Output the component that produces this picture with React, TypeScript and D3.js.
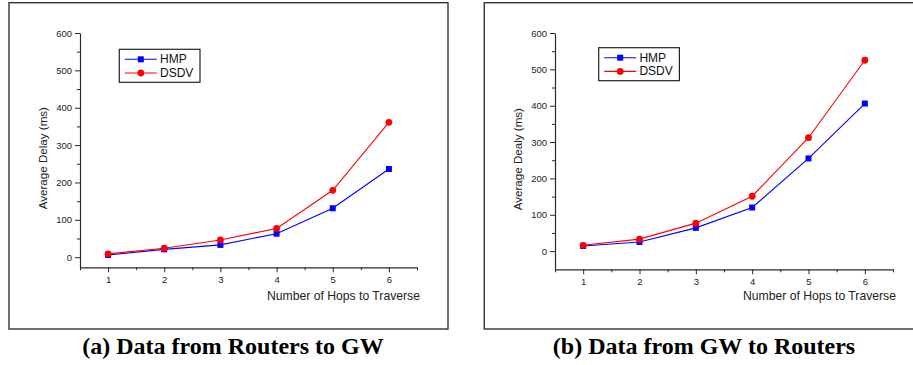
import React, { useRef, useEffect } from 'react';
import * as d3 from 'd3';

const hops = [1, 2, 3, 4, 5, 6];

// (a) Data from Routers to GW
const hmpToGw = [6, 21, 33, 63, 131, 236];
const dsdvToGw = [9, 24, 46, 77, 179, 361];

// (b) Data from GW to Routers
const hmpFromGw = [14, 25, 64, 120, 255, 406];
const dsdvFromGw = [16, 33, 77, 151, 312, 525];

const yTicks = [0, 100, 200, 300, 400, 500, 600];
const yMinorTicks = [50, 150, 250, 350, 450, 550];
const xMinorTicks = [0.5, 1.5, 2.5, 3.5, 4.5, 5.5, 6.5];

const seriesNames = ['HMP', 'DSDV'];
const seriesColors = ['#0000ff', '#ff0000'];

const FONT = 'Arial, "Liberation Sans", sans-serif';
const AXIS = '#2a2a2a';

interface PanelSpec {
  frame: [number, number, number, number];
  xRange: [number, number];
  yRange: [number, number];
  yMin: number;
  yLabel: string;
  yLabelX: number;
  caption: string;
  captionX: number;
  legend: [number, number];
  hmp: number[];
  dsdv: number[];
}

const panels: PanelSpec[] = [
  {
    frame: [9, 2.7, 448, 329],
    xRange: [80, 417],
    yRange: [267.3, 33],
    yMin: -27,
    yLabel: 'Average Delay (ms)',
    yLabelX: 42,
    caption: '(a) Data from Routers to GW',
    captionX: 233,
    legend: [119.3, 49.3],
    hmp: hmpToGw,
    dsdv: dsdvToGw,
  },
  {
    frame: [484.3, 2.7, 925, 329],
    xRange: [555, 893],
    yRange: [269.3, 33],
    yMin: -50,
    yLabel: 'Average Dealy (ms)',
    yLabelX: 517.7,
    caption: '(b) Data from GW to Routers',
    captionX: 704,
    legend: [598.7, 47.7],
    hmp: hmpFromGw,
    dsdv: dsdvFromGw,
  },
];

const App: React.FC = () => {
  const svgRef = useRef<SVGSVGElement>(null);
  const width = 913;
  const height = 365;

  useEffect(() => {
    if (!svgRef.current) return;
    const svg = d3.select(svgRef.current);
    svg.selectAll('*').remove();

    svg.append('rect')
      .attr('width', width)
      .attr('height', height)
      .attr('fill', '#fff');

    panels.forEach((p) => {
      const [fx0, fy0, fx1, fy1] = p.frame;
      svg.append('rect')
        .attr('x', fx0)
        .attr('y', fy0)
        .attr('width', fx1 - fx0)
        .attr('height', fy1 - fy0)
        .attr('fill', 'none')
        .attr('stroke', '#333')
        .attr('stroke-width', 1.4);

      const x = d3.scaleLinear().domain([0.5, 6.5]).range(p.xRange);
      const y = d3.scaleLinear().domain([p.yMin, 600]).range(p.yRange);

      const styleAxis = (sel: d3.Selection<SVGGElement, unknown, null, undefined>) => {
        sel.select('.domain').attr('stroke', AXIS).attr('stroke-width', 1.2);
        sel.selectAll('.tick line').attr('stroke', AXIS).attr('stroke-width', 1);
        sel.selectAll('.tick text')
          .attr('font-family', FONT)
          .attr('font-size', '9.5px')
          .attr('fill', '#222');
      };

      // Y axis
      const yAxisG = svg.append('g')
        .attr('transform', `translate(${p.xRange[0]},0)`)
        .call(d3.axisLeft(y).tickValues(yTicks).tickFormat(d3.format('d')).tickSize(5).tickPadding(3).tickSizeOuter(0));
      styleAxis(yAxisG);
      const yMinorG = svg.append('g')
        .attr('transform', `translate(${p.xRange[0]},0)`)
        .call(d3.axisLeft(y).tickValues(yMinorTicks).tickSize(3).tickFormat(() => '').tickSizeOuter(0));
      styleAxis(yMinorG);
      yMinorG.select('.domain').remove();

      // X axis
      const xAxisG = svg.append('g')
        .attr('transform', `translate(0,${p.yRange[0]})`)
        .call(d3.axisBottom(x).tickValues(hops).tickFormat(d3.format('d')).tickSize(5).tickPadding(4).tickSizeOuter(0));
      styleAxis(xAxisG);
      const xMinorG = svg.append('g')
        .attr('transform', `translate(0,${p.yRange[0]})`)
        .call(d3.axisBottom(x).tickValues(xMinorTicks).tickSize(3).tickFormat(() => '').tickSizeOuter(0));
      styleAxis(xMinorG);
      xMinorG.select('.domain').remove();

      // Axis labels
      svg.append('text')
        .attr('transform', `translate(${p.yLabelX},${(p.yRange[0] + p.yRange[1]) / 2 + 8}) rotate(-90)`)
        .attr('text-anchor', 'middle')
        .attr('dominant-baseline', 'central')
        .attr('font-family', FONT)
        .attr('font-size', '11.6px')
        .attr('fill', '#222')
        .text(p.yLabel);

      svg.append('text')
        .attr('x', p.xRange[1] + 3)
        .attr('y', 300)
        .attr('text-anchor', 'end')
        .attr('font-family', FONT)
        .attr('font-size', '12.2px')
        .attr('fill', '#222')
        .text('Number of Hops to Traverse');

      // Series
      const line = d3.line<number>()
        .x((_, i) => x(hops[i]))
        .y((d) => y(d));

      [p.hmp, p.dsdv].forEach((vals, si) => {
        svg.append('path')
          .datum(vals)
          .attr('d', line)
          .attr('fill', 'none')
          .attr('stroke', seriesColors[si])
          .attr('stroke-width', 1.1);
      });

      svg.append('g')
        .selectAll('rect')
        .data(p.hmp)
        .join('rect')
        .attr('x', (_, i) => x(hops[i]) - 3)
        .attr('y', (d) => y(d) - 3)
        .attr('width', 6)
        .attr('height', 6)
        .attr('fill', seriesColors[0]);

      svg.append('g')
        .selectAll('circle')
        .data(p.dsdv)
        .join('circle')
        .attr('cx', (_, i) => x(hops[i]))
        .attr('cy', (d) => y(d))
        .attr('r', 3.4)
        .attr('fill', seriesColors[1]);

      // Legend
      const [lx, ly] = p.legend;
      const lg = svg.append('g').attr('transform', `translate(${lx},${ly})`);
      lg.append('rect')
        .attr('width', 80.7)
        .attr('height', 33)
        .attr('fill', '#fff')
        .attr('stroke', '#222')
        .attr('stroke-width', 1.2);
      seriesNames.forEach((name, si) => {
        const rowY = 10 + si * 13.7;
        lg.append('line')
          .attr('x1', 5.5)
          .attr('x2', 37.5)
          .attr('y1', rowY)
          .attr('y2', rowY)
          .attr('stroke', seriesColors[si])
          .attr('stroke-width', 1.1);
        if (si === 0) {
          lg.append('rect')
            .attr('x', 21.5 - 3)
            .attr('y', rowY - 3)
            .attr('width', 6)
            .attr('height', 6)
            .attr('fill', seriesColors[si]);
        } else {
          lg.append('circle')
            .attr('cx', 21.5)
            .attr('cy', rowY)
            .attr('r', 3.4)
            .attr('fill', seriesColors[si]);
        }
        lg.append('text')
          .attr('x', 40.7)
          .attr('y', rowY)
          .attr('dominant-baseline', 'central')
          .attr('font-family', FONT)
          .attr('font-size', '12px')
          .attr('fill', '#111')
          .text(name);
      });

      // Caption
      svg.append('text')
        .attr('x', p.captionX)
        .attr('y', 354.3)
        .attr('text-anchor', 'middle')
        .attr('font-family', '"Liberation Serif", "Times New Roman", serif')
        .attr('font-weight', 700)
        .attr('font-size', '24px')
        .attr('fill', '#000')
        .text(p.caption);
    });
  }, []);

  return (
    <svg
      ref={svgRef}
      width={width}
      height={height}
      style={{ position: 'absolute', left: 0, top: 0 }}
    />
  );
};

export default App;
